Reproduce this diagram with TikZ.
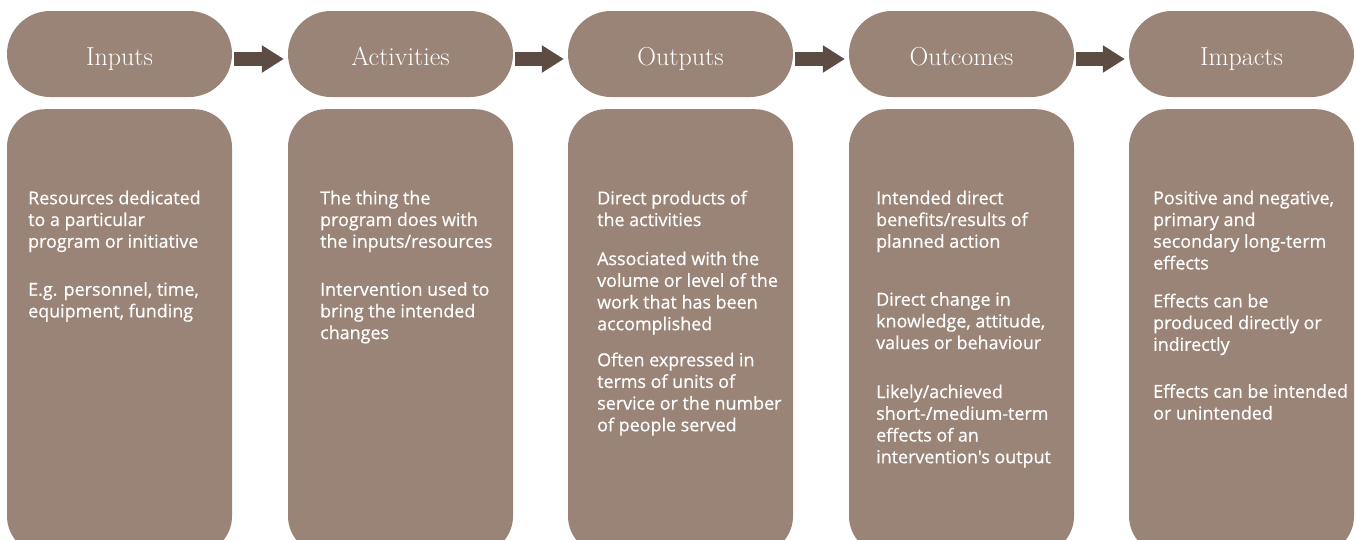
\documentclass[tikz,border=0pt]{standalone}
\usepackage{fontspec}
\newfontfamily\blurbfont{Open Sans}[FakeBold=0.6]
\usetikzlibrary{shapes.misc,arrows.meta}

\definecolor{stagefill}{RGB}{154,132,119}
\definecolor{flowfill}{RGB}{93,76,67}

\tikzset{
  stage/.style={rounded rectangle, fill=stagefill, minimum width=225pt, minimum height=86pt, inner sep=0pt, text height=24pt, text depth=2pt, text=white, font=\fontsize{26}{30}\selectfont},
  panel/.style={rectangle, rounded corners=38pt, fill=stagefill, minimum width=225pt, minimum height=445pt, anchor=north},
  blurb/.style={anchor=north west, inner sep=0pt, text=white, align=left, font=\blurbfont\fontsize{17.9}{21.7}\selectfont},
  flow/.style={draw=flowfill, line width=14pt, -{Triangle[length=22pt,width=26pt]}, shorten <=2pt, shorten >=4pt}
}

\begin{document}
\begin{tikzpicture}[x=1pt,y=-1pt]
\clip (0,0) rectangle (1356,539);

% stages
\node[stage] (inputs) at (119.5,54) {Inputs};
\node[stage] (activities) at (400.5,54) {Activities};
\node[stage] (outputs) at (680.5,54) {Outputs};
\node[stage] (outcomes) at (961.5,54) {Outcomes};
\node[stage] (impacts) at (1241.5,54) {Impacts};

\foreach \from/\to in {inputs/activities,activities/outputs,outputs/outcomes,outcomes/impacts}
\draw[flow] ([yshift=-5pt]\from.east) -- ([yshift=-5pt]\to.west);

% panels
\node[panel] (inputs-panel) at (119.5,109) {};
\node[panel] (activities-panel) at (400.5,109) {};
\node[panel] (outputs-panel) at (680.5,109) {};
\node[panel] (outcomes-panel) at (961.5,109) {};
\node[panel] (impacts-panel) at (1241.5,109) {};

\node[blurb] (inputs-text) at (28,190.5) {Resources dedicated\\to a particular\\program or initiative\\[26.3pt]E.g. personnel, time,\\equipment, funding};
\node[blurb] (activities-text) at (320,190.5) {The thing the\\program does with\\the inputs/resources\\[26.3pt]Intervention used to\\bring the intended\\changes};
\node[blurb] (outputs-text) at (597,190.5) {Direct products of\\the activities\\[17.3pt]Associated with the\\volume or level of the\\work that has been\\accomplished\\[14.3pt]Often expressed in\\terms of units of\\service or the number\\of people served};
\node[blurb] (outcomes-text) at (876,190.5) {Intended direct\\benefits/results of\\planned action\\[36.3pt]Direct change in\\knowledge, attitude,\\values or behaviour\\[27.3pt]Likely/achieved\\short-/medium-term\\effects of an\\intervention's output};
\node[blurb] (impacts-text) at (1153,190.5) {Positive and negative,\\primary and\\secondary long-term\\effects\\[16.3pt]Effects can be\\produced directly or\\indirectly\\[25.3pt]Effects can be intended\\or unintended};
\end{tikzpicture}
\end{document}
